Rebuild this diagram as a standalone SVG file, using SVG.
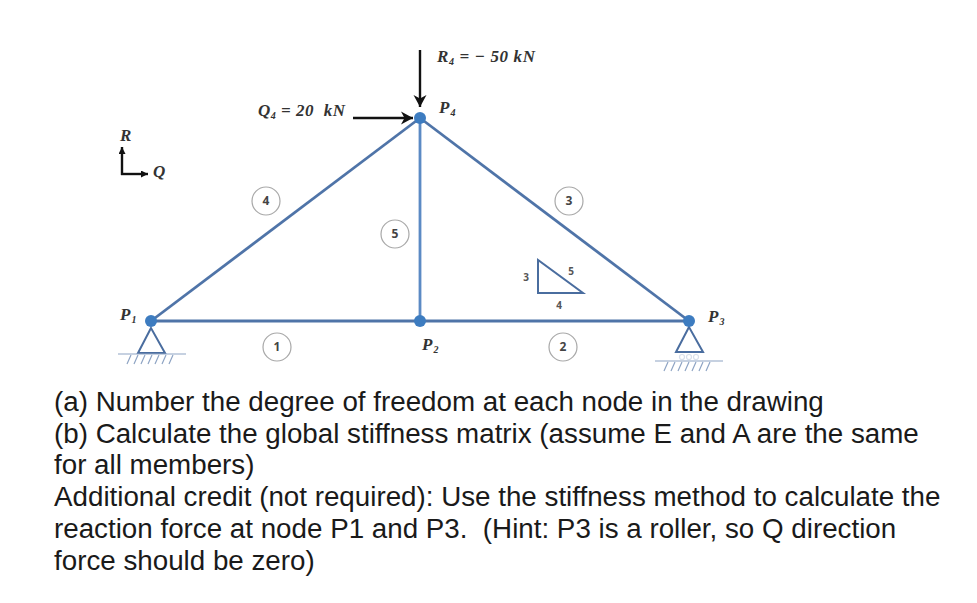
<svg xmlns="http://www.w3.org/2000/svg" width="977" height="603" viewBox="0 0 977 603">
<style>
.m{stroke:#4f74a8;stroke-width:2.8;fill:none}
.v{stroke:#5b8ac4;stroke-width:2.8;fill:none}
.s{stroke:#4a6d9f;stroke-width:2;fill:none}
.g{stroke:#8ea4c4;stroke-width:1.2;fill:none}
.a{stroke:#111;stroke-width:2.4;fill:none}
.n{fill:#3d7cc0}
.c{fill:#fff;stroke:#a8a8a8;stroke-width:1.2}
.cl{font:bold 12px "Open Sans","Liberation Sans",sans-serif;fill:#444;text-anchor:middle}
.d{font:bold 10px "Open Sans","Liberation Sans",sans-serif;fill:#555;text-anchor:middle}
.l{font:italic bold 15.5px "Liberation Serif",serif;fill:#333;white-space:pre}
.b{font-size:17px}
.u{font-size:10px}
.t{font:27.75px "Liberation Sans",Arial,sans-serif;fill:#1a1a1a;white-space:pre}
</style>
<defs>
<marker id="h" markerUnits="userSpaceOnUse" markerWidth="14" markerHeight="14" refX="12" refY="7" orient="auto"><path d="M0 0.5L12 7L0 13.5L3.5 7Z" fill="#111"/></marker>
<marker id="hs" markerUnits="userSpaceOnUse" markerWidth="8" markerHeight="8" refX="7" refY="3.5" orient="auto"><path d="M0 0L7 3.5L0 7Z" fill="#111"/></marker>
</defs>
<g id="connectors">
<path class="m" d="M151 321L420 118"/>
<path class="m" d="M420 118L689 321"/>
<path class="m" d="M151 321H689"/>
<path class="v" d="M420 118V321"/>
<path class="a" d="M420 50V107" marker-end="url(#h)"/>
<path class="a" d="M353 118H413" marker-end="url(#h)"/>
<path class="a" d="M122 175V147" marker-end="url(#hs)"/>
<path class="a" d="M121 174H148" marker-end="url(#hs)"/>
</g>
<g id="support-P1">
<path class="s" d="M151 328L138 353H165Z"/>
<path class="g" d="M118 354H186"/>
<path class="g" d="M131 355L127 364M138 355L134 364M145 355L141 364M152 355L148 364M159 355L155 364M166 355L162 364M173 355L169 364"/>
</g>
<g id="support-P3">
<path class="s" d="M689 327L676 352H703Z"/>
<circle class="g" cx="682" cy="357" r="2.5" opacity=".35"/><circle class="g" cx="689" cy="357" r="2.5" opacity=".35"/><circle class="g" cx="696" cy="357" r="2.5" opacity=".35"/>
<path class="g" d="M655 361H723"/>
<path class="g" d="M668 362L664 371M675 362L671 371M682 362L678 371M689 362L685 371M696 362L692 371M703 362L699 371M710 362L706 371"/>
</g>
<g id="P1"><circle class="n" cx="151" cy="321" r="6"/><text class="l b" x="120" y="320">P<tspan class="u" dx="1" dy="3">1</tspan></text></g>
<g id="P2"><circle class="n" cx="420" cy="321" r="6"/><text class="l b" x="422" y="350">P<tspan class="u" dx="1" dy="3">2</tspan></text></g>
<g id="P3"><circle class="n" cx="689" cy="321" r="6"/><text class="l b" x="708" y="322">P<tspan class="u" dx="1" dy="3">3</tspan></text></g>
<g id="P4"><circle class="n" cx="420" cy="118" r="6"/><text class="l b" x="439" y="113">P<tspan class="u" dx="1" dy="3">4</tspan></text></g>
<g id="load-R4"><text class="l b" x="437" y="62" textLength="98">R<tspan class="u" dy="3">4</tspan><tspan dy="-3"> = − 50 kN</tspan></text></g>
<g id="load-Q4"><text class="l b" x="258" y="116" textLength="87">Q<tspan class="u" dy="3">4</tspan><tspan dy="-3"> = 20  kN</tspan></text></g>
<g id="axes"><text class="l b" x="120" y="141">R</text><text class="l b" x="153" y="177">Q</text></g>
<g id="m1"><circle class="c" cx="277" cy="347" r="14"/><text class="cl" x="277" y="351">1</text></g>
<g id="m2"><circle class="c" cx="563" cy="347" r="14"/><text class="cl" x="563" y="351">2</text></g>
<g id="m3"><circle class="c" cx="569" cy="201" r="14"/><text class="cl" x="569" y="205">3</text></g>
<g id="m4"><circle class="c" cx="266" cy="201" r="14"/><text class="cl" x="266" y="205">4</text></g>
<g id="m5"><circle class="c" cx="395" cy="234" r="14"/><text class="cl" x="395" y="238">5</text></g>
<g id="slope">
<path class="s" d="M538 260V293H583Z"/>
<text class="d" x="526" y="281">3</text><text class="d" x="571" y="275">5</text><text class="d" x="559" y="309">4</text>
</g>
<g id="text">
<text class="t" x="54" y="411">(a) Number the degree of freedom at each node in the drawing</text>
<text class="t" x="54" y="443">(b) Calculate the global stiffness matrix (assume E and A are the same</text>
<text class="t" x="54" y="474">for all members)</text>
<text class="t" x="54" y="506">Additional credit (not required): Use the stiffness method to calculate the</text>
<text class="t" x="54" y="538">reaction force at node P1 and P3.  (Hint: P3 is a roller, so Q direction</text>
<text class="t" x="54" y="570">force should be zero)</text>
</g>
</svg>
